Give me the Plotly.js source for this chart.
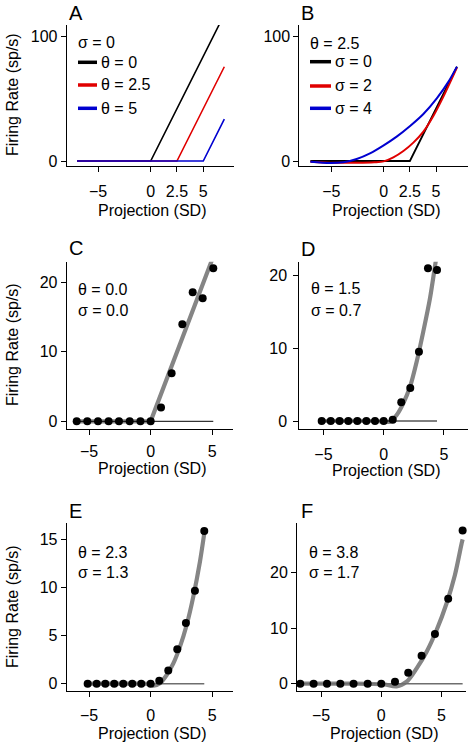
<!DOCTYPE html>
<html>
<head>
<meta charset="utf-8">
<script src="https://cdn.plot.ly/plotly-3.0.1.min.js"></script>
<style>
html,body{margin:0;padding:0;background:#fff;}
#chart{width:473px;height:747px;}
</style>
</head>
<body>
<div id="chart"></div>
<script>
// ---------- DATA ----------
// Panel A: sigma = 0, varying theta
const aBlackX = [-7, 0, 7];
const aBlackY = [0, 0, 117.3];
const aRedX = [-7, 2.5, 7];
const aRedY = [0, 0, 75.4];
const aBlueX = [-7, 5, 7];
const aBlueY = [0, 0, 33.5];
const aHeader = "σ = 0";
const aLabels = ["θ = 0", "θ = 2.5", "θ = 5"];

// Panel B: theta = 2.5, varying sigma
const bBlackX = [-7, 2.5, 7];
const bBlackY = [0, 0, 75.4];
const bRedX = [-7.0, -4.8, -2.5, -0.9, 0.0, 0.92, 1.88, 2.83, 3.79, 4.74, 5.70, 6.99];
const bRedY = [-0.5, -1.4, -1.4, -1.0, -0.3, 2.9, 8.0, 14.7, 23.5, 36.0, 51.5, 74.7];
const bBlueX = [-7.0, -5.13, -3.86, -2.58, -1.31, -0.04, 1.24, 2.52, 3.79, 5.07, 6.19, 6.99];
const bBlueY = [-0.5, -1.6, -1.0, 1.6, 6.1, 12.3, 19.5, 28.0, 37.6, 50.1, 63.5, 75.5];
const bHeader = "θ = 2.5";
const bLabels = ["σ = 0", "σ = 2", "σ = 4"];

// Panel C
const cX = [-6.0, -5.14, -4.27, -3.41, -2.57, -1.7, -0.83, 0, 0.84, 1.7, 2.57, 3.41, 4.22, 5.08];
const cY = [0, 0, 0, 0, 0, 0, 0, 0, 2.0, 6.9, 13.95, 18.55, 17.7, 22.0];
const cFitX = [-6.0, 0, 5.08];
const cFitY = [0, 0, 23.7];
const cText = ["θ = 0.0", "σ = 0.0"];

// Panel D
const dX = [-5.15, -4.4, -3.66, -2.94, -2.19, -1.44, -0.72, 0, 0.75, 1.46, 2.21, 2.93, 3.68, 4.43];
const dY = [0, 0, 0, 0, 0, 0, 0, 0, 0.18, 2.57, 4.54, 9.54, 21.0, 20.77];
const dFitX = [-5.15, -1.0, 0, 0.52, 1.08, 1.63, 2.19, 2.74, 3.29, 3.85, 4.32, 4.43];
const dFitY = [0, 0, -0.05, -0.1, 0.83, 2.43, 4.72, 8.16, 12.3, 16.9, 21.9, 22.9];
const dText = ["θ = 1.5", "σ = 0.7"];

// Panel E
const eX = [-5.11, -4.38, -3.68, -2.95, -2.22, -1.49, -0.76, 0, 0.70, 1.43, 2.16, 2.86, 3.59, 4.35];
const eY = [0, 0, 0, 0, 0, 0, 0, 0, 0.31, 1.38, 3.56, 6.3, 9.65, 15.84];
const eFitX = [-5.11, -1.0, 0, 0.21, 0.75, 1.3, 1.84, 2.38, 2.92, 3.46, 4.0, 4.35];
const eFitY = [0, 0, -0.05, -0.2, 0.04, 0.9, 2.1, 3.84, 6.09, 9.03, 12.66, 15.6];
const eText = ["θ = 2.3", "σ = 1.3"];

// Panel F
const fX = [-6.73, -5.62, -4.51, -3.4, -2.3, -1.13, 0, 1.14, 2.24, 3.35, 4.46, 5.56, 6.76];
const fY = [0, 0, 0, 0, 0, 0, 0, 0.37, 1.99, 5.05, 8.95, 15.3, 27.6];
const fFitX = [-6.73, -2.0, -1.0, 0.17, 1.28, 2.11, 2.94, 3.77, 4.6, 5.43, 6.12, 6.68, 6.76];
const fFitY = [0, 0, -0.05, -0.1, -0.5, 0.36, 2.77, 5.77, 9.68, 14.5, 19.6, 25.3, 26.0];
const fText = ["θ = 3.8", "σ = 1.7"];

const panelLetters = ["A", "B", "C", "D", "E", "F"];
const xTitle = "Projection (SD)";
const yTitle = "Firing Rate (sp/s)";
const xTicksAB = [-5, 0, 2.5, 5];
const xTicksCF = [-5, 0, 5];
const yTicksA = [0, 100];
const yTicksC = [0, 10, 20];
const yTicksE = [0, 5, 10, 15];

// ---------- LAYOUT HELPERS ----------
const W = 473, H = 747;
const FONT = "Liberation Sans, Arial, Helvetica, sans-serif";
const px = v => v / W;
const py = v => 1 - v / H;

// pixel boxes: [x0, x1, ytop, ybottom], ranges
const boxes = [
  {x: [66.7, 234], y: [25, 166], xr: [-7.98, 7.92], yr: [-4.0, 108.8]},
  {x: [299.3, 468], y: [25, 166], xr: [-8.06, 8.05], yr: [-4.0, 108.8]},
  {x: [66.7, 233], y: [261.7, 429.3], xr: [-6.81, 6.68], yr: [-1.15, 22.96]},
  {x: [299.3, 467.7], y: [261.7, 429.3], xr: [-7.01, 6.98], yr: [-1.14, 21.91]},
  {x: [66.7, 233], y: [523.3, 691.3], xr: [-6.81, 6.68], yr: [-0.79, 16.64]},
  {x: [297, 466], y: [523.3, 691.3], xr: [-7.0, 7.04], yr: [-1.37, 28.9]}
];
const xStand = [6, 6, 2, 5, 4, 4];
const yStand = [0, 0, 0, 3, 0, 0];
const xTickSets = [xTicksAB, xTicksAB, xTicksCF, xTicksCF, xTicksCF, xTicksCF];
const yTickSets = [yTicksA, yTicksA, yTicksC, yTicksC, yTicksE, yTicksC];

const layout = {
  width: W, height: H,
  margin: {l: 0, r: 0, t: 0, b: 0},
  paper_bgcolor: "#fff", plot_bgcolor: "#fff",
  showlegend: false,
  font: {family: FONT, size: 16, color: "#000"},
  annotations: [], shapes: []
};

boxes.forEach((b, i) => {
  const n = i === 0 ? "" : String(i + 1);
  layout["xaxis" + n] = {
    domain: [px(b.x[0]), px(b.x[1])], anchor: "y" + n, range: b.xr,
    showline: true, linecolor: "#000", linewidth: 1, mirror: false,
    ticks: "outside", ticklen: 5, tickwidth: 1, tickcolor: "#000",
    tickvals: xTickSets[i], ticktext: xTickSets[i].map(v => v < 0 ? "\u2212" + Math.abs(v) : String(v)),
    ticklabelstandoff: xStand[i],
    showgrid: false, zeroline: false, fixedrange: true,
    tickfont: {family: FONT, size: 16, color: "#000"}
  };
  layout["yaxis" + n] = {
    domain: [py(b.y[1]), py(b.y[0])], anchor: "x" + n, range: b.yr,
    showline: true, linecolor: "#000", linewidth: 1, mirror: false,
    ticks: "outside", ticklen: 5, tickwidth: 1, tickcolor: "#000",
    tickvals: yTickSets[i], ticklabelstandoff: yStand[i],
    showgrid: false, zeroline: false, fixedrange: true,
    tickfont: {family: FONT, size: 16, color: "#000"}
  };
});

// panel letters
const letterPos = [[67, 13], [299, 13], [67, 248], [299, 249], [67, 511], [299, 511]];
panelLetters.forEach((L, i) => {
  layout.annotations.push({xref: "paper", yref: "paper", x: px(letterPos[i][0]), y: py(letterPos[i][1]),
    xanchor: "left", yanchor: "middle", text: L, showarrow: false, font: {size: 20, family: FONT}});
});
// x titles
const xTitleY = [211, 211, 468, 471, 733, 733];
boxes.forEach((b, i) => {
  layout.annotations.push({xref: "paper", yref: "paper", x: px((b.x[0] + b.x[1]) / 2 + 2), y: py(xTitleY[i]),
    xanchor: "center", yanchor: "middle", text: xTitle, showarrow: false, font: {size: 16, family: FONT}});
});
// y titles
[[0, 95], [2, 345], [4, 607]].forEach(([i, yc]) => {
  layout.annotations.push({xref: "paper", yref: "paper", x: px(12), y: py(yc),
    xanchor: "center", yanchor: "middle", text: yTitle, textangle: -90, showarrow: false, font: {size: 16, family: FONT}});
});

// legends in A and B
function legend(header, labels, colors, x0, x1, xt, yh, rows) {
  layout.annotations.push({xref: "paper", yref: "paper", x: px(x0 - 2), y: py(yh), xanchor: "left", yanchor: "middle",
    text: header, showarrow: false, font: {size: 16, family: FONT}});
  labels.forEach((t, k) => {
    layout.shapes.push({type: "line", xref: "paper", yref: "paper", x0: px(x0), x1: px(x1), y0: py(rows[k]), y1: py(rows[k]),
      line: {color: colors[k], width: 3.5}});
    layout.annotations.push({xref: "paper", yref: "paper", x: px(xt - 2), y: py(rows[k]), xanchor: "left", yanchor: "middle",
      text: t, showarrow: false, font: {size: 16, family: FONT}});
  });
}
const cols = ["#000000", "#e00000", "#0000d0"];
legend(aHeader, aLabels, cols, 78, 97, 100.7, 42, [62.3, 85, 108.3]);
legend(bHeader, bLabels, cols, 310, 331, 335.3, 43.3, [61.7, 86, 108.3]);

// theta/sigma text in C-F
const txt = [cText, dText, eText, fText];
const txtPos = [[78, 290, 310], [311, 289, 310], [78, 552, 572], [309, 552, 572]];
txt.forEach((t, k) => {
  const p = txtPos[k];
  layout.annotations.push({xref: "paper", yref: "paper", x: px(p[0] - 2), y: py(p[1]), xanchor: "left", yanchor: "middle",
    text: t[0], showarrow: false, font: {size: 16, family: FONT}});
  layout.annotations.push({xref: "paper", yref: "paper", x: px(p[0] - 2), y: py(p[2]), xanchor: "left", yanchor: "middle",
    text: t[1], showarrow: false, font: {size: 16, family: FONT}});
});

// ---------- TRACES ----------
const traces = [];
function line(x, y, xa, ya, color, width, shape) {
  traces.push({x: x, y: y, xaxis: xa, yaxis: ya, type: "scatter", mode: "lines",
    line: {color: color, width: width, shape: shape || "linear", smoothing: 0.8}, hoverinfo: "skip", cliponaxis: true});
}
function pts(x, y, xa, ya) {
  traces.push({x: x, y: y, xaxis: xa, yaxis: ya, type: "scatter", mode: "markers",
    marker: {color: "#000", size: 8}, hoverinfo: "skip", cliponaxis: false});
}
// A
line(aBlackX, aBlackY, "x", "y", cols[0], 1.6);
line(aRedX, aRedY, "x", "y", cols[1], 1.6);
line(aBlueX, aBlueY, "x", "y", cols[2], 1.6);
// B
line(bBlackX, bBlackY, "x2", "y2", cols[0], 1.8);
line(bRedX, bRedY, "x2", "y2", cols[1], 2, "spline");
line(bBlueX, bBlueY, "x2", "y2", cols[2], 2, "spline");
// C-F
const fitData = [
  [cX, cY, cFitX, cFitY, "#000", 1, "linear"],
  [dX, dY, dFitX, dFitY, "#000", 1, "spline"],
  [eX, eY, eFitX, eFitY, "#6e6e6e", 1.6, "spline"],
  [fX, fY, fFitX, fFitY, "#6e6e6e", 1.6, "spline"]
];
fitData.forEach((d, k) => {
  const n = String(k + 3);
  line(d[2], d[3], "x" + n, "y" + n, "#858585", 4.2, d[6]);
  const x0 = d[0][0], x1 = d[0][d[0].length - 1];
  line([x0, x1], [0, 0], "x" + n, "y" + n, d[4], d[5]);
  pts(d[0], d[1], "x" + n, "y" + n);
});

Plotly.newPlot("chart", traces, layout, {staticPlot: true, displayModeBar: false});
</script>
</body>
</html>
